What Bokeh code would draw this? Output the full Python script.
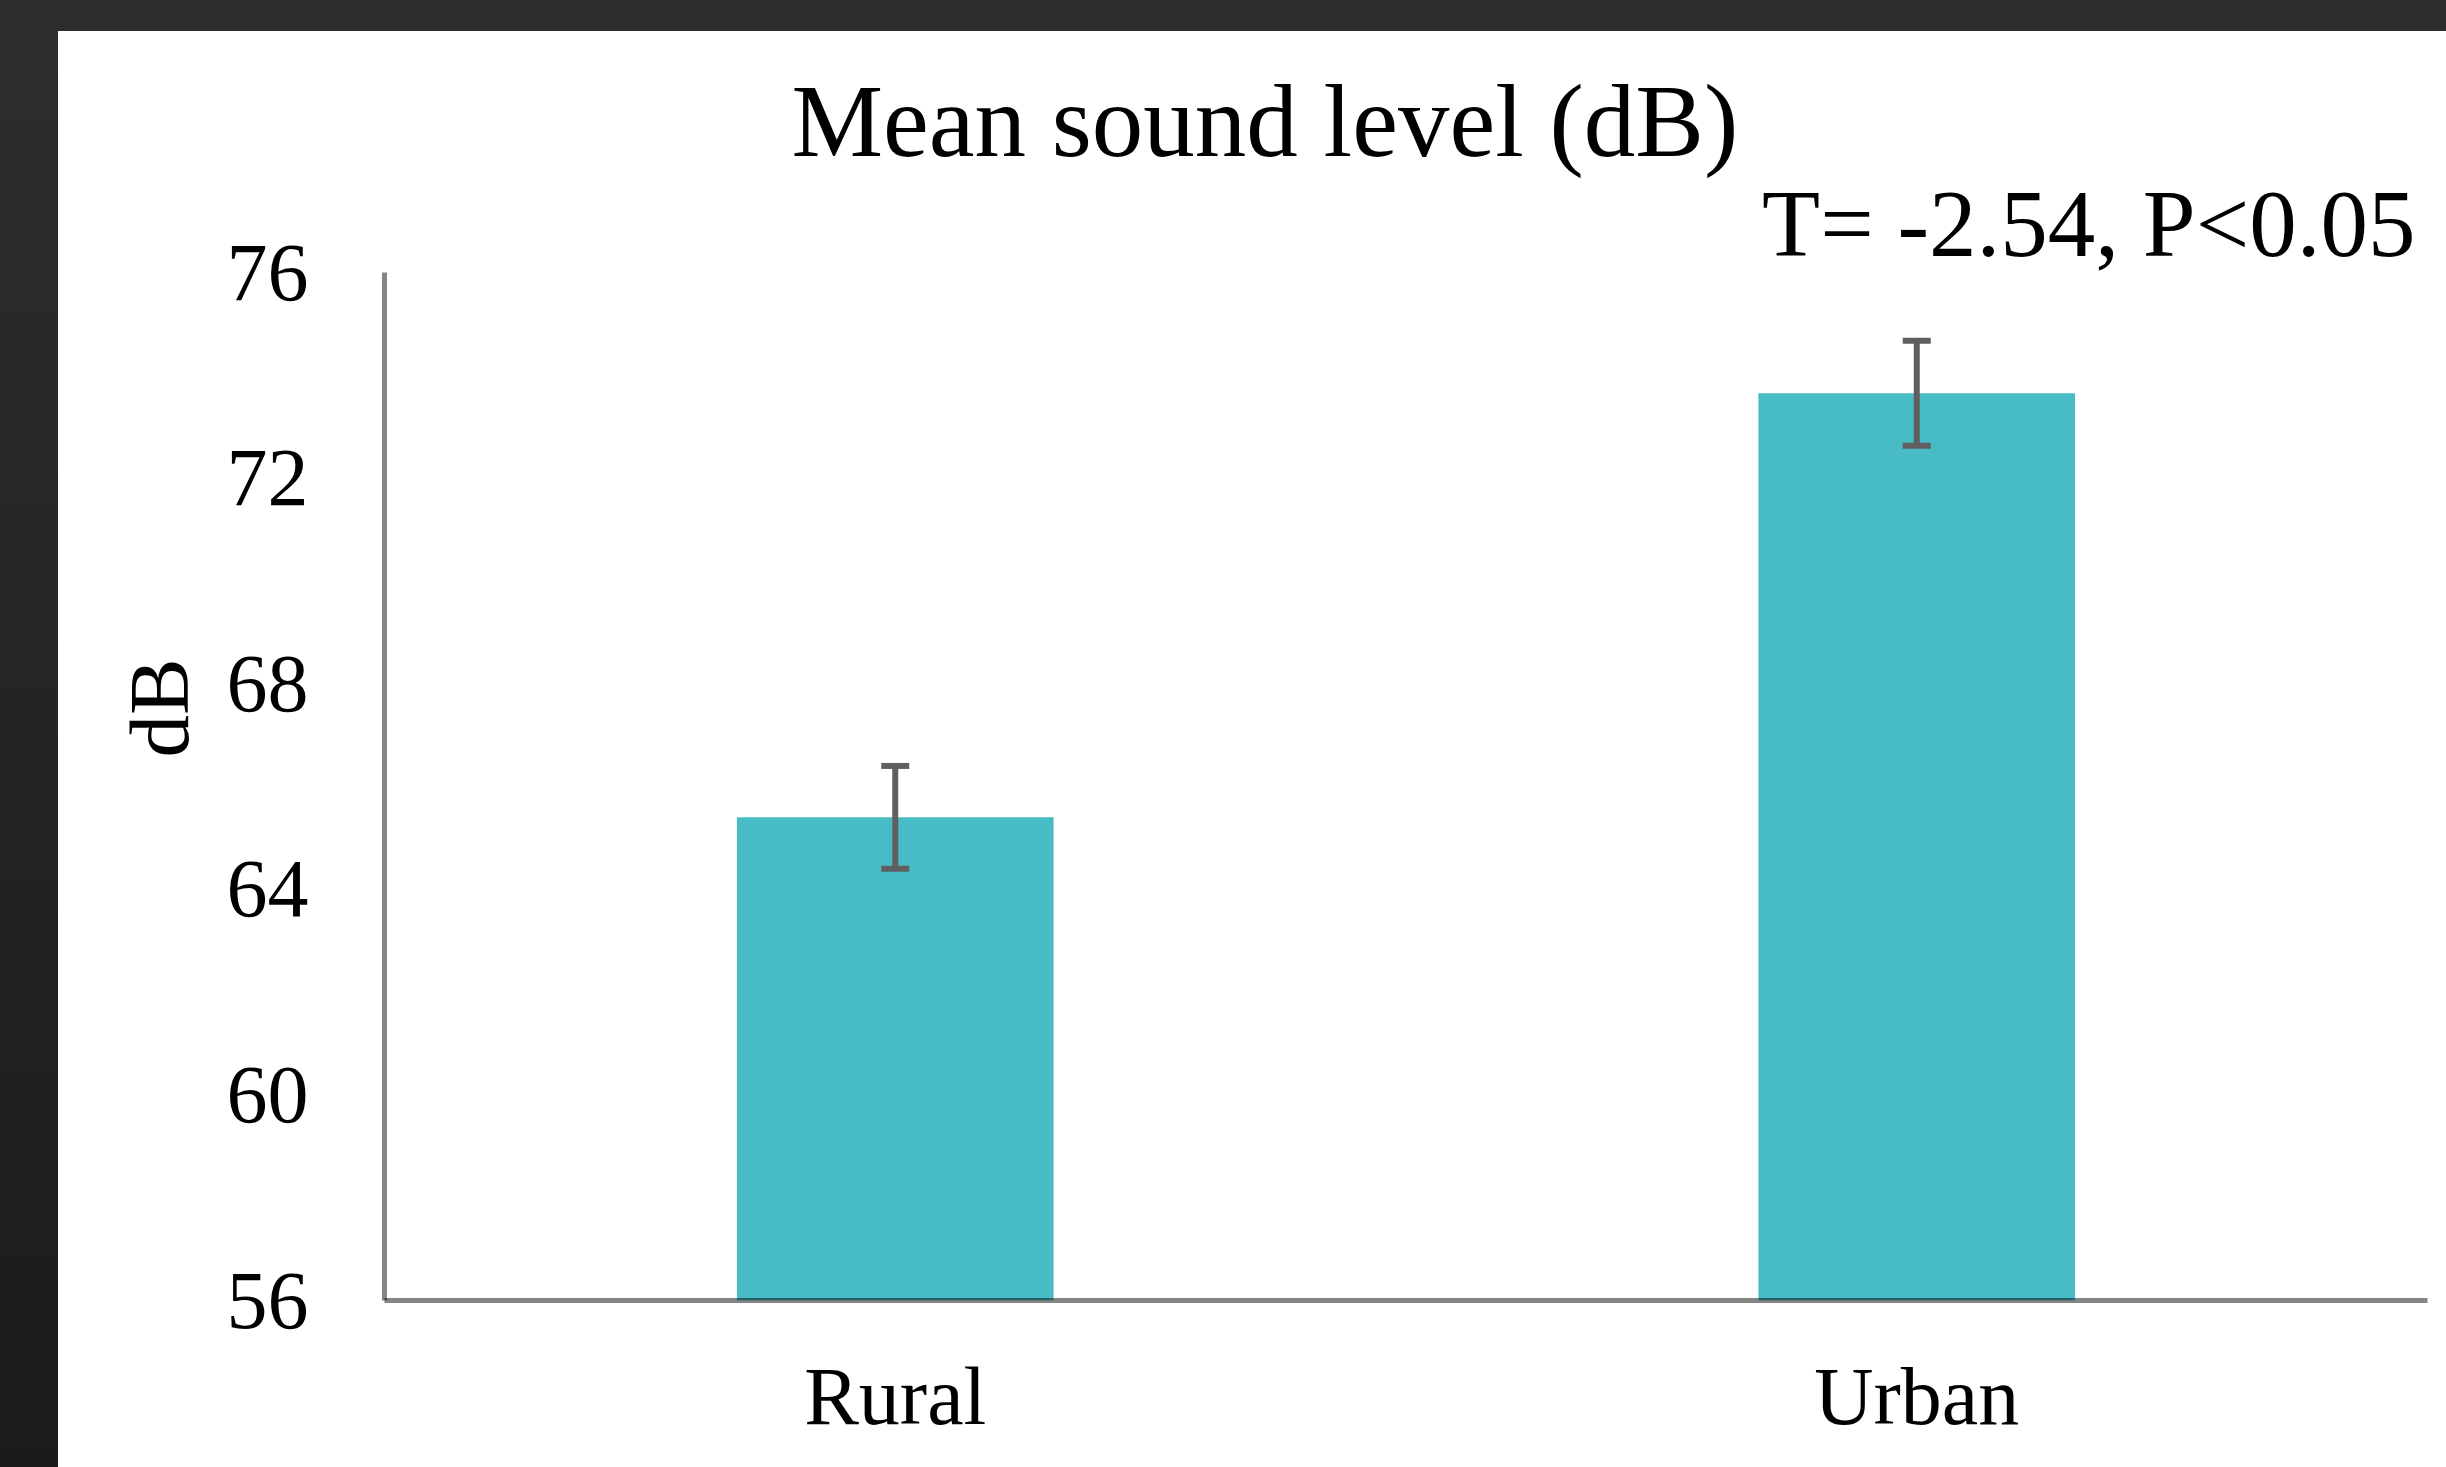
from bokeh.plotting import figure
from bokeh.models import (ColumnDataSource, FactorRange, Range1d, FixedTicker,
                          Whisker, TeeHead, Title, Spacer)
from bokeh.layouts import column, row
from bokeh.embed import file_html
from bokeh.resources import INLINE

# ---- data ----
categories = ["Rural", "Urban"]
mean_db = [65.4, 73.65]
err_db = [1.0, 1.02]
y_ticks = [56, 60, 64, 68, 72, 76]
title_text = "Mean sound level (dB)"
stat_text = "T= -2.54, P<0.05"
y_label = "dB"

upper = [m + e for m, e in zip(mean_db, err_db)]
lower = [m - e for m, e in zip(mean_db, err_db)]
src = ColumnDataSource(dict(cat=categories, mean=mean_db, upper=upper, lower=lower))

FONT = "Liberation Serif"

p = figure(width=2388, height=1436, output_backend="svg", toolbar_location=None,
           x_range=FactorRange(*categories, range_padding=0),
           y_range=Range1d(56, 76),
           min_border_left=326, min_border_right=19,
           min_border_top=241, min_border_bottom=167)
p.title.visible = False

p.vbar(x="cat", top="mean", bottom=56, width=0.31, source=src,
       fill_color="#47BCC6", line_color=None)

wh = Whisker(base="cat", upper="upper", lower="lower", source=src, level="overlay",
             line_color="#5f5f5f", line_width=6,
             upper_head=TeeHead(size=28, line_color="#5f5f5f", line_width=6),
             lower_head=TeeHead(size=28, line_color="#5f5f5f", line_width=6))
p.add_layout(wh)

p.background_fill_color = "white"
p.border_fill_color = "white"
p.outline_line_color = None
p.xgrid.grid_line_color = None
p.ygrid.grid_line_color = None

for ax in (p.xaxis[0], p.yaxis[0]):
    ax.axis_line_color = "black"
    ax.axis_line_alpha = 0.48
    ax.axis_line_width = 5
    ax.major_tick_line_color = None
    ax.minor_tick_line_color = None
    ax.major_tick_out = 0
    ax.major_tick_in = 0
    ax.major_label_text_font = FONT
    ax.major_label_text_font_size = "82px"
    ax.major_label_text_color = "black"

p.yaxis[0].ticker = FixedTicker(ticks=y_ticks)
p.yaxis[0].major_label_standoff = 76
p.xaxis[0].major_label_standoff = 50

ylab = Title(text=y_label, align="left", text_font=FONT, text_font_size="85px",
             text_font_style="normal", text_color="black", standoff=36, offset=543)
p.add_layout(ylab, "left")

stat = Title(text=stat_text, align="right", text_font=FONT, text_font_size="95px",
             text_font_style="normal", text_color="black", standoff=-8, offset=12)
p.add_layout(stat, "above")
main = Title(text=title_text, align="left", text_font=FONT, text_font_size="103px",
             text_font_style="normal", text_color="black", standoff=-10, offset=407)
p.add_layout(main, "above")

top_bar = Spacer(width=2446, height=31, styles={"background-color": "#2d2d2d"})
left_bar = Spacer(width=58, height=1436,
                  styles={"background": "linear-gradient(#2d2d2d, #1b1b1b)"})
layout = column(top_bar, row(left_bar, p, spacing=0), spacing=0)

open("out.html", "w").write(file_html(layout, INLINE))
